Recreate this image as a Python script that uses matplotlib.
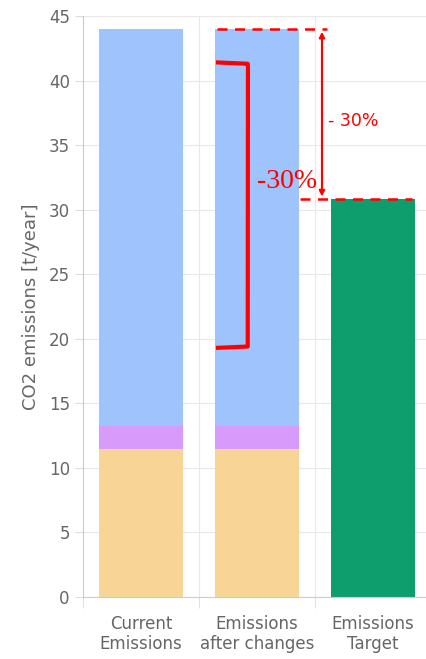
import numpy as np
import matplotlib.pyplot as plt
from matplotlib.patches import FancyArrowPatch

categories = ['Current\nEmissions', 'Emissions\nafter changes', 'Emissions\nTarget']
seg_orange = [11.5, 11.5, 0]
seg_purple = [1.75, 1.75, 0]
seg_blue = [30.75, 30.75, 0]
target = [0, 0, 30.8]
y_ticks = [0, 5, 10, 15, 20, 25, 30, 35, 40, 45]

fig = plt.figure(figsize=(4.27, 6.59), dpi=100)
ax = fig.add_axes([83 / 427, 1 - 597 / 659, 348 / 427, 581 / 659])

x = np.arange(len(categories))
w = 0.72
ax.bar(x[:2], seg_orange[:2], w, color='#f8d597', zorder=2)
ax.bar(x[:2], seg_purple[:2], w, bottom=seg_orange[:2], color='#d79bfb', zorder=2)
bot = np.array(seg_orange[:2]) + np.array(seg_purple[:2])
ax.bar(x[:2], seg_blue[:2], w, bottom=bot, color='#9fc3fd', zorder=2)
ax.bar(x[2:], target[2:], w, color='#0e9e6e', zorder=2)

ax.set_xlim(-0.5, 2.5)
ax.set_ylim(0, 45)
ax.set_yticks(y_ticks)
ax.set_xticks(x)
ax.set_xticklabels(categories, fontsize=12, color='#666666', linespacing=1.15)
ax.set_xticks([-0.5, 0.5, 1.5], minor=True)
ax.tick_params(axis='x', which='major', length=0, pad=13)
ax.tick_params(axis='x', which='minor', length=8, color='#dddddd')
ax.tick_params(axis='y', length=6, color='#dddddd', labelsize=12, labelcolor='#666666')
ax.yaxis.grid(True, color='#e8e8e8', zorder=0)
ax.xaxis.grid(True, which='minor', color='#e8e8e8', zorder=0)
for s in ['top', 'right']:
    ax.spines[s].set_visible(False)
for s in ['left', 'bottom']:
    ax.spines[s].set_color('#cccccc')
ax.set_ylabel('CO2 emissions [t/year]', fontsize=13, color='#666666', labelpad=6)

# red annotations
top = seg_orange[0] + seg_purple[0] + seg_blue[0]
goal = target[2]
ax.plot([0.655, 1.60], [top, top], color='red', lw=1.8, ls=(0, (4, 3)), zorder=4)
ax.plot([1.37, 2.34], [goal, goal], color='red', lw=1.8, ls=(0, (4, 3)), zorder=4)
ax.add_patch(FancyArrowPatch((1.56, top), (1.56, goal), arrowstyle='<|-|>',
                             mutation_scale=8, color='red', lw=1.5, zorder=4))
ax.text(1.61, 36.9, '- 30%', color='red', fontsize=12.5, va='center', ha='left')
ax.plot([0.664, 0.92, 0.922, 0.92, 0.664], [41.4, 41.3, 41.1, 19.4, 19.3],
        color='red', lw=3, solid_joinstyle='round', zorder=4)
ax.text(1.0, 32.2, '-30%', color='red', fontsize=20, family='Liberation Serif',
        va='center', ha='left', zorder=5)

fig.savefig('out.png', dpi=100)
